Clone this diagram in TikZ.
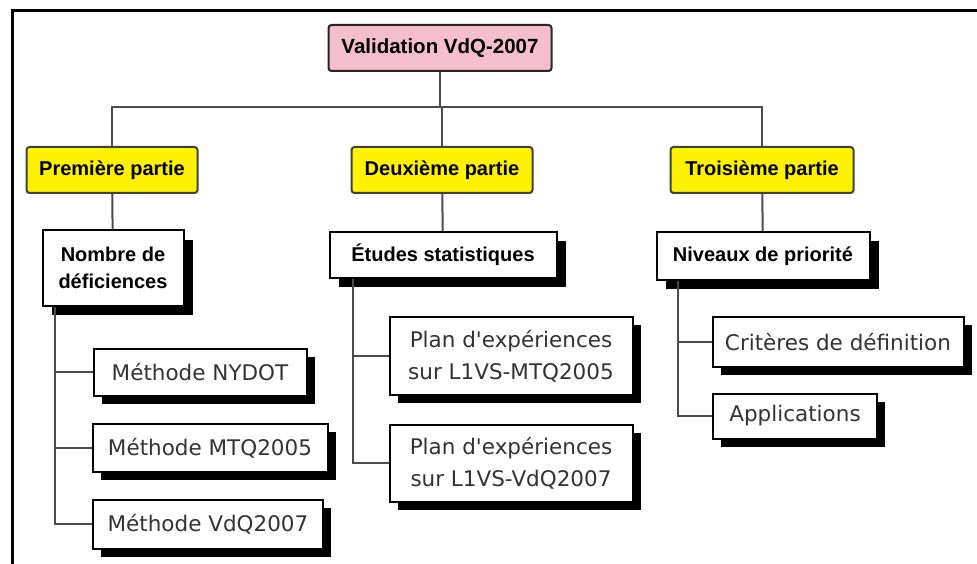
\documentclass[tikz,border=0pt]{standalone}
\usepackage{fontspec}
\setmainfont{Liberation Sans}
\newfontfamily\plainsans{DejaVu Sans}
\usetikzlibrary{shadows}
\definecolor{rootpink}{RGB}{244,190,204}

\begin{document}
\begin{tikzpicture}[x=1pt,y=-1pt,line width=2pt] % pixel units

\tikzstyle{rootbox}=[draw=black!85,fill=rootpink,rounded corners=3,inner sep=0,minimum height=46,font=\bfseries\fontsize{20.5}{27}\selectfont];
\tikzstyle{partbox}=[draw=black!75,fill=yellow,rounded corners=3,inner sep=0,minimum height=46,font=\bfseries\fontsize{20}{27}\selectfont];
\tikzstyle{topicbox}=[draw=black,fill=white,inner sep=0,align=center,general shadow={fill=black,shadow xshift=9pt,shadow yshift=-9pt},font=\bfseries\fontsize{20}{27}\selectfont];
\tikzstyle{leafbox}=[draw=black,fill=white,inner sep=0,align=center,text=black!80,general shadow={fill=black,shadow xshift=8pt,shadow yshift=-8pt},font=\plainsans\fontsize{21.5}{32}\selectfont];
\tikzstyle{link}=[draw=black!70,line width=2pt];

\useasboundingbox (0,0) rectangle (977,564);
\draw[line width=3pt] (12,564) -- (12,11) -- (977,11);

\node[rootbox,minimum width=223] (v0) at (440,48) {Validation VdQ-2007};

\node[partbox,minimum width=171] (v1) at (112,170) {Première partie};
\node[partbox,minimum width=181] (v2) at (442,170) {Deuxième partie};
\node[partbox,minimum width=183] (v3) at (762,170) {Troisième partie};

\node[topicbox,minimum width=141,minimum height=75] (v4) at (113,268) {Nombre de\\déficiences};
\node[topicbox,minimum width=227,minimum height=46] (v5) at (443,255) {Études statistiques};
\node[topicbox,minimum width=213,minimum height=48] (v6) at (763,256) {Niveaux de priorité};

\node[leafbox,minimum width=213,minimum height=47] (v7) at (200,372) {Méthode NYDOT};
\node[leafbox,minimum width=235,minimum height=48] (v8) at (210,448) {Méthode MTQ2005};
\node[leafbox,minimum width=230,minimum height=49] (v9) at (208,524) {Méthode VdQ2007};
\node[leafbox,minimum width=243,minimum height=78] (v10) at (511,356) {Plan d'expériences\\sur L1VS-MTQ2005};
\node[leafbox,minimum width=243,minimum height=77] (v11) at (511,463) {Plan d'expériences\\sur L1VS-VdQ2007};
\node[leafbox,minimum width=251,minimum height=50] (v12) at (838,342) {Critères de définition};
\node[leafbox,minimum width=164,minimum height=45] (v13) at (795,416) {Applications};

\coordinate (bar) at (442,107);
\coordinate (t1) at (55,0);
\coordinate (t2) at (353,0);
\coordinate (t3) at (678,0);

\draw[link] (v0) -- (v0 |- bar);
\draw[link] (v1) -- (v1 |- bar) -- (v3 |- bar) -- (v3);
\draw[link] (v2) -- (v2 |- bar);
\draw[link] (v1) -- (v4);
\draw[link] (v2) -- (v5);
\draw[link] (v3) -- (v6);

\draw[link] (v4.south -| t1) |- (v7);
\draw[link] (v4.south -| t1) |- (v8);
\draw[link] (v4.south -| t1) |- (v9);
\draw[link] (v5.south -| t2) |- (v10);
\draw[link] (v5.south -| t2) |- (v11);
\draw[link] (v6.south -| t3) |- (v12);
\draw[link] (v6.south -| t3) |- (v13);
\end{tikzpicture}
\end{document}
